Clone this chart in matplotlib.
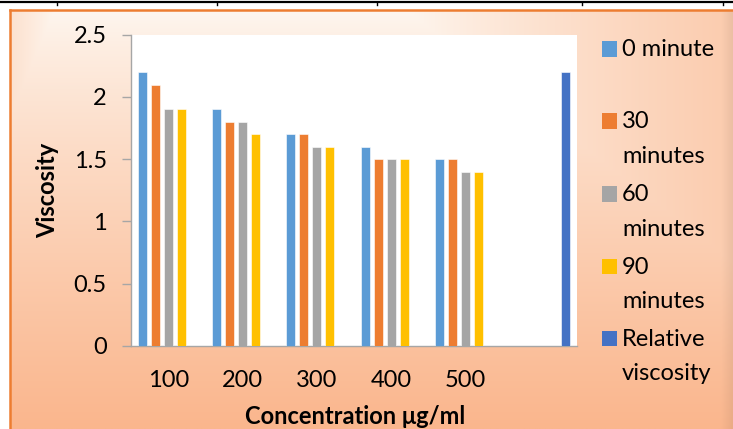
import numpy as np
import matplotlib
matplotlib.use("Agg")
import matplotlib.pyplot as plt
from matplotlib.patches import Rectangle
from matplotlib.lines import Line2D
from matplotlib.colors import to_rgb

plt.rcParams['font.family'] = ['Lato', 'DejaVu Sans']

categories = ["100", "200", "300", "400", "500", ""]
series_names = ["0 minute", "30\nminutes", "60\nminutes", "90\nminutes", "Relative\nviscosity"]
min0 = [2.2, 1.9, 1.7, 1.6, 1.5, np.nan]
min30 = [2.1, 1.8, 1.7, 1.5, 1.5, np.nan]
min60 = [1.9, 1.8, 1.6, 1.5, 1.4, np.nan]
min90 = [1.9, 1.7, 1.6, 1.5, 1.4, np.nan]
relative = [np.nan, np.nan, np.nan, np.nan, np.nan, 2.2]
series = [min0, min30, min60, min90, relative]
colors = ["#5B9BD5", "#ED7D31", "#A5A5A5", "#FFC000", "#4472C4"]
yticks = [0, 0.5, 1, 1.5, 2, 2.5]
ytick_labels = ["0", "0.5", "1", "1.5", "2", "2.5"]

W, H = 733, 429
fig = plt.figure(figsize=(W / 100, H / 100), dpi=100)
fig.patch.set_facecolor("white")

# background gradient panel
bx0, by0 = 10, 10  # left, top in px
bg = fig.add_axes([bx0 / W, 0, 1 - bx0 / W, 1 - by0 / H])
nx, ny = 400, 250
xx, yy = np.meshgrid(np.linspace(0, 1, nx), np.linspace(0, 1, ny))
t = np.maximum(yy, np.clip((xx - 0.55) / 0.45, 0, 1) * 0.6)
t = np.maximum(t, np.clip((0.06 - xx) / 0.06, 0, 1) * 0.25)
t = np.clip(t, 0, 1) ** 0.8
top = np.array(to_rgb("#FEF7F0"))
bot = np.array(to_rgb("#FAB68D"))
img = top[None, None, :] * (1 - t[..., None]) + bot[None, None, :] * t[..., None]
# slight darker shadow at the right edge
edge = np.clip((xx - 0.985) / 0.015, 0, 1)[..., None] * 0.06
img = img * (1 - edge)
bg.imshow(img, aspect="auto", extent=[0, 1, 1, 0], interpolation="bilinear")
bg.set_xlim(0, 1)
bg.set_ylim(1, 0)
bg.axis("off")

# orange frame lines and table lines at top
fig.add_artist(Line2D([bx0 / W, 1], [1 - bx0 / H, 1 - bx0 / H], color="#ED7D31", lw=1.8))
fig.add_artist(Line2D([bx0 / W, bx0 / W], [0, 1 - bx0 / H], color="#ED7D31", lw=1.8))
fig.add_artist(Line2D([0, 1], [1 - 1.5 / H, 1 - 1.5 / H], color="black", lw=1.6))
for xv in [57, 217, 377, 582, 723]:
    fig.add_artist(Line2D([xv / W, xv / W], [1 - 1.5 / H, 1 - 5 / H], color="black", lw=1.0))

# main axes
ax_l, ax_r, ax_t, ax_b = 131, 577, 34.7, 346
ax = fig.add_axes([ax_l / W, 1 - ax_b / H, (ax_r - ax_l) / W, (ax_b - ax_t) / H])
ax.set_facecolor("white")
x = np.arange(len(categories))
slot = 0.175
bw = 0.122
for k, (vals, c) in enumerate(zip(series, colors)):
    ax.bar(x + (k - 2) * slot, vals, width=bw, color=c, edgecolor="white", linewidth=0.4, zorder=3)

ax.set_xlim(-0.5, len(categories) - 0.5)
ax.set_ylim(0, 2.5)
ax.set_yticks(yticks)
ax.set_yticklabels(ytick_labels)
ax.set_xticks(x)
ax.set_xticklabels(categories)
for s in ["top", "right"]:
    ax.spines[s].set_visible(False)
for s in ["left", "bottom"]:
    ax.spines[s].set_color("#A6A6A6")
    ax.spines[s].set_linewidth(1.0)
ax.tick_params(axis="y", direction="out", length=6.5, width=1.0, color="#A6A6A6",
               pad=11, labelsize=17, labelcolor="black")
ax.tick_params(axis="x", length=0, pad=17, labelsize=17, labelcolor="black")

# axis titles
fig.text(48 / W, 1 - 190 / H, "Viscosity", rotation=90, ha="center", va="center",
         fontsize=17, fontweight="bold")
fig.text(355 / W, 1 - 416 / H, "Concentration μg/ml", ha="center", va="center",
         fontsize=17, fontweight="bold")

# legend
leg_y = [49, 121, 194, 266, 338]
for name, c, yc in zip(series_names, colors, leg_y):
    ms = 15
    fig.add_artist(Rectangle((602 / W, 1 - (yc + ms / 2) / H), ms / W, ms / H,
                             transform=fig.transFigure, facecolor=c, edgecolor="none"))
    fig.text(622 / W, 1 - (yc - 9.5) / H, name, ha="left", va="top", fontsize=17,
             linespacing=1.8)

fig.savefig("out.png", dpi=100)
